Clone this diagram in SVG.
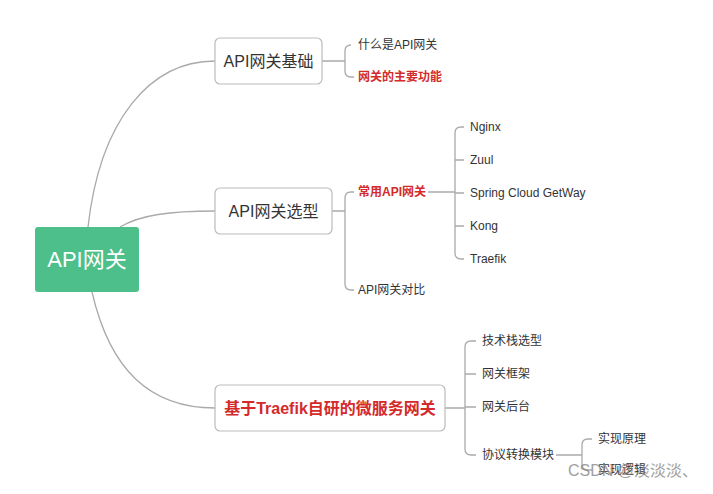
<svg xmlns="http://www.w3.org/2000/svg" width="713" height="494" viewBox="0 0 713 494">
<style>
text{font-family:"Liberation Sans","Noto Sans CJK SC",sans-serif;fill:#333}
.b{fill:#fff;stroke:#bbb;stroke-width:1.2}
.c{fill:none;stroke:#aaa;stroke-width:1.3}
.s{font-size:12px;dominant-baseline:central}
.m{font-size:16px;dominant-baseline:central;text-anchor:middle}
.r{fill:#d42a2a;font-weight:bold}
</style>
<rect width="713" height="494" fill="#fff"/>
<g id="connectors">
<path class="c" d="M88,227 C100,120 150,61 215,61"/>
<path class="c" d="M120,227 C140,215 170,211 215,211"/>
<path class="c" d="M92,292 C110,370 150,408 215,408"/>
<path class="c" d="M322,61 H345 M351,45 Q345,45 345,51 V71 Q345,77 351,77 H354"/>
<path class="c" d="M332,211 H345 M354,192 H351 Q345,192 345,198 V284 Q345,290 351,290 H354"/>
<path class="c" d="M428,192 H455 M464,127 H461 Q455,127 455,133 V253 Q455,259 461,259 H464 M455,160 H464 M455,193 H464 M455,226 H464"/>
<path class="c" d="M445,408 H465 M476,341 H471 Q465,341 465,347 V449 Q465,455 471,455 H476 M465,374 H476 M465,407 H476"/>
<path class="c" d="M556,455 H582 M592,439 H588 Q582,439 582,445 V464 Q582,470 588,470 H592"/>
</g>
<g id="root"><rect x="35" y="227" width="104" height="65" rx="3" fill="#4dbf8a"/><text x="87" y="259.5" class="m" style="fill:#fff;font-size:22px">API网关</text></g>
<g id="n1"><rect class="b" x="215" y="38" width="107" height="46" rx="5"/><text x="268.5" y="61" class="m">API网关基础</text></g>
<g id="n2"><rect class="b" x="215" y="188" width="117" height="46" rx="5"/><text x="273.5" y="211" class="m">API网关选型</text></g>
<g id="n3"><rect class="b" x="215" y="385" width="230" height="46" rx="5"/><text x="330" y="408" class="m r">基于Traefik自研的微服务网关</text></g>
<g id="leaves">
<text x="358" y="45" class="s">什么是API网关</text>
<text x="358" y="77" class="s r">网关的主要功能</text>
<text x="358" y="192" class="s r">常用API网关</text>
<text x="358" y="290" class="s">API网关对比</text>
<text x="470" y="127" class="s">Nginx</text>
<text x="470" y="160" class="s">Zuul</text>
<text x="470" y="193" class="s">Spring Cloud GetWay</text>
<text x="470" y="226" class="s">Kong</text>
<text x="470" y="259" class="s">Traefik</text>
<text x="482" y="341" class="s">技术栈选型</text>
<text x="482" y="374" class="s">网关框架</text>
<text x="482" y="407" class="s">网关后台</text>
<text x="482" y="455" class="s">协议转换模块</text>
<text x="598" y="439" class="s">实现原理</text>
<text x="598" y="470" class="s">实现逻辑</text>
</g>
<text x="568" y="476" style="font-size:16px;fill:#888;opacity:0.8">CSDN @淡淡淡、</text>
</svg>
